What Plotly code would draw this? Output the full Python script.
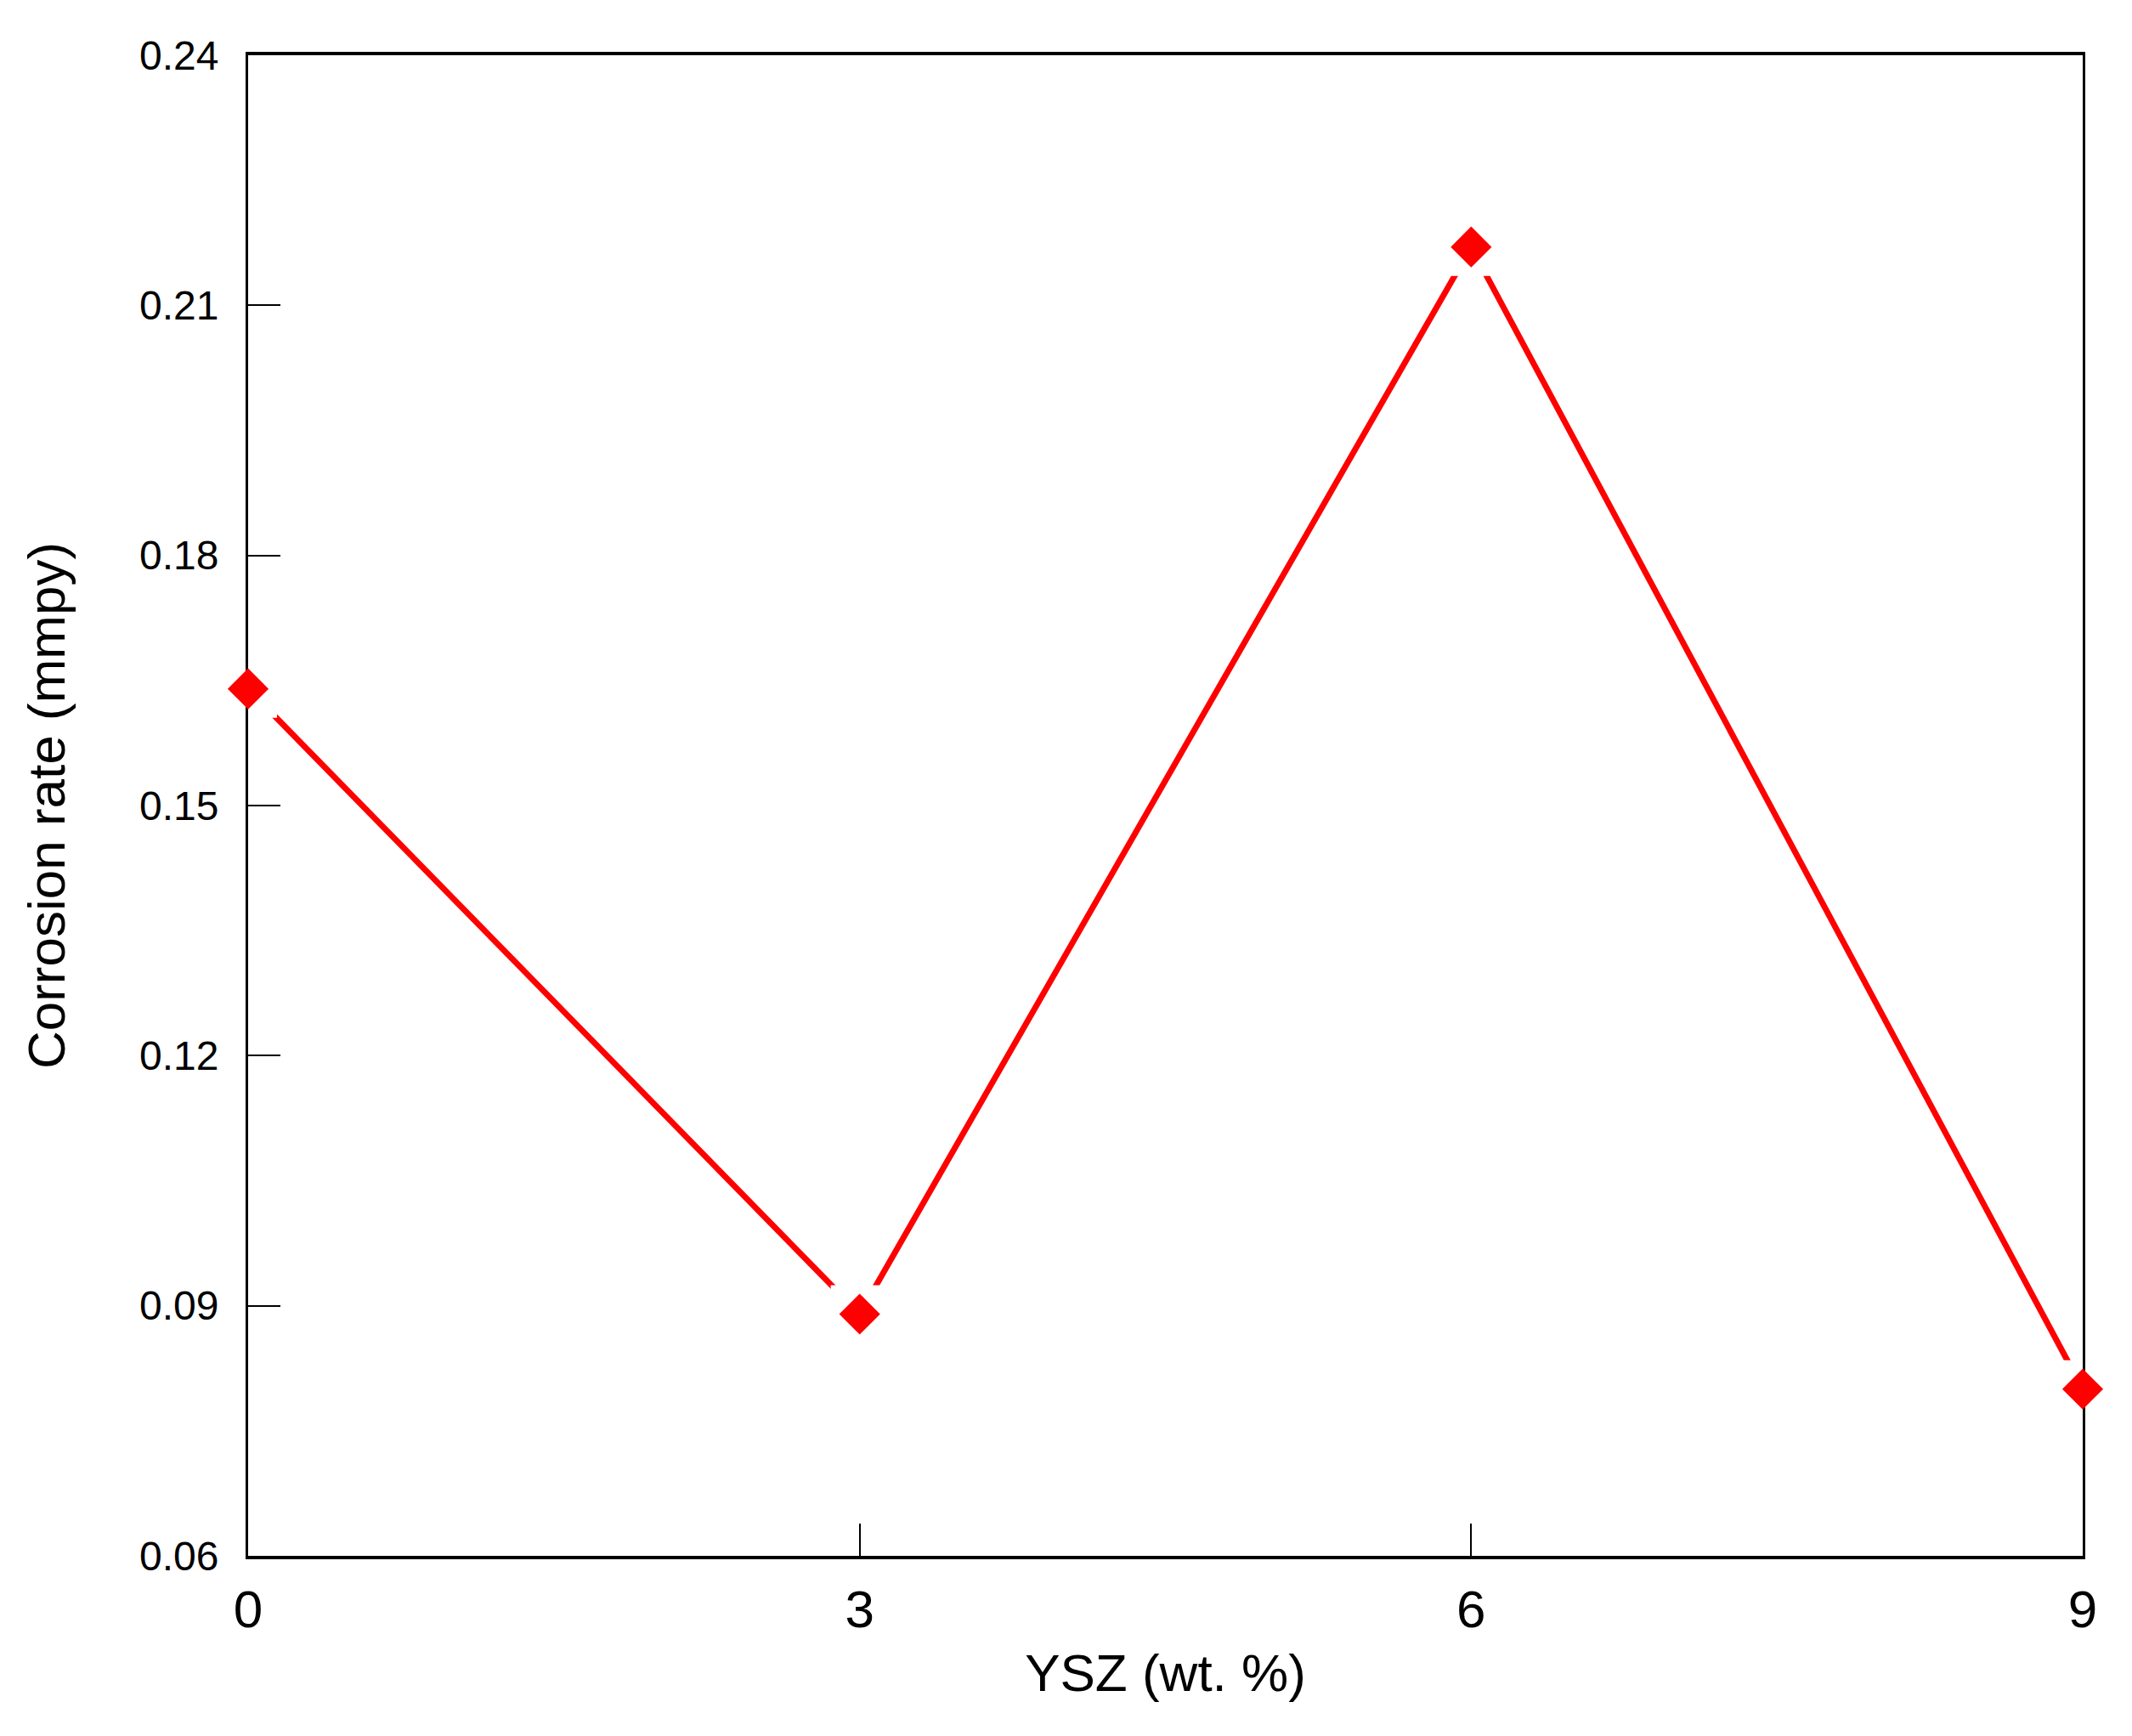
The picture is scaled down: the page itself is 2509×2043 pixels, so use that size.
import plotly.graph_objects as go

# YSZ content vs corrosion rate
ysz_wt = [0, 3, 6, 9]
corrosion_rate = [0.164, 0.089, 0.217, 0.080]

x_ticks = [0, 3, 6, 9]
y_ticks = [0.06, 0.09, 0.12, 0.15, 0.18, 0.21, 0.24]

RED = "#ff0000"
FONT = "Liberation Sans, Arial, sans-serif"

fig = go.Figure()

# connecting line
fig.add_trace(go.Scatter(
    x=ysz_wt, y=corrosion_rate, mode="lines",
    line=dict(color=RED, width=7), hoverinfo="skip", showlegend=False,
))
# white square halo so the line stops short of each marker
fig.add_trace(go.Scatter(
    x=ysz_wt, y=corrosion_rate, mode="markers",
    marker=dict(symbol="square", size=68, color="white"),
    cliponaxis=True, hoverinfo="skip", showlegend=False,
))
# red diamonds
fig.add_trace(go.Scatter(
    x=ysz_wt, y=corrosion_rate, mode="markers",
    marker=dict(symbol="diamond", size=37, color=RED),
    cliponaxis=False, showlegend=False,
))

fig.update_layout(
    width=2509, height=2043,
    margin=dict(l=292, r=58, t=65, b=212),
    paper_bgcolor="white", plot_bgcolor="white",
    font=dict(family=FONT, color="black"),
)
fig.update_xaxes(
    range=[0, 9], tickvals=x_ticks, ticktext=[str(v) for v in x_ticks],
    showgrid=False, zeroline=False,
    showline=True, linecolor="black", linewidth=4, mirror=True,
    ticks="inside", ticklen=38, tickwidth=2, tickcolor="black",
    tickfont=dict(size=62), ticklabelstandoff=6,
    title=dict(text="YSZ (wt. %)", font=dict(size=62), standoff=20),
    layer="below traces", automargin=False,
)
fig.update_yaxes(
    range=[0.06, 0.24], tickvals=y_ticks, ticktext=[f"{v:.2f}" for v in y_ticks],
    showgrid=False, zeroline=False,
    showline=True, linecolor="black", linewidth=3, mirror=True,
    ticks="inside", ticklen=38, tickwidth=2, tickcolor="black",
    tickfont=dict(size=48), ticklabelstandoff=22,
    title=dict(text="Corrosion rate (mmpy)", font=dict(size=62), standoff=68),
    layer="below traces", automargin=False,
)

fig.write_html("out.html", config={"displayModeBar": False},
               post_script="document.body.style.margin='0';")
